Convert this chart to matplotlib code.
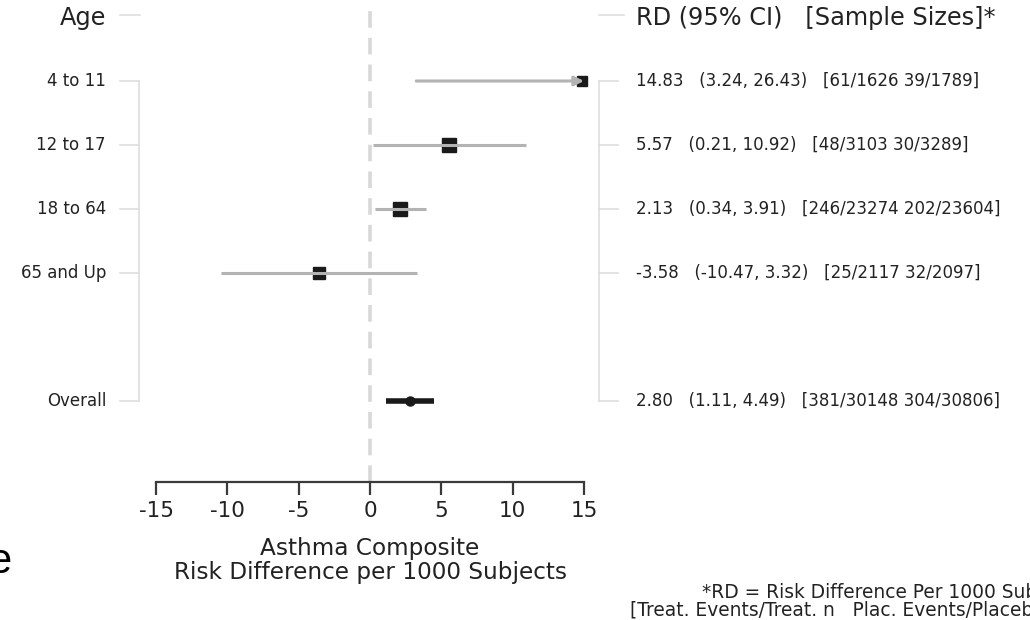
import numpy as np
import matplotlib
matplotlib.use("Agg")
import matplotlib.pyplot as plt
from matplotlib.transforms import blended_transform_factory

plt.rcParams['font.family'] = ['DejaVu Sans']

# data
groups = ["4 to 11", "12 to 17", "18 to 64", "65 and Up"]
rd = [14.83, 5.57, 2.13, -3.58]
lo = [3.24, 0.21, 0.34, -10.47]
hi = [26.43, 10.92, 3.91, 3.32]
sizes = ["61/1626 39/1789", "48/3103 30/3289", "246/23274 202/23604", "25/2117 32/2097"]
overall_rd, overall_lo, overall_hi = 2.80, 1.11, 4.49
overall_sizes = "381/30148 304/30806"
xticks = [-15, -10, -5, 0, 5, 10, 15]

W, H = 1030, 620
fig = plt.figure(figsize=(W / 100, H / 100), dpi=100)
renderer = fig.canvas.get_renderer()


def fit(t, target, k=0.95):
    # reference text is drawn wide; size the font so its width roughly matches
    w = t.get_window_extent(renderer).width
    t.set_fontsize(t.get_fontsize() * k * target / w)
    return t


# main panel: -15..15 -> px 156..584, rows 1..6 -> px 81..401
top_px, bot_px = 8, 482
ax = fig.add_axes([156 / W, 1 - bot_px / H, (584 - 156) / W, (bot_px - top_px) / H])
ax.set_xlim(-15, 15)
px_row = 64.0
ax.set_ylim(1 + (bot_px - 81) / px_row, 1 - (81 - top_px) / px_row)
for s in ["top", "left", "right"]:
    ax.spines[s].set_visible(False)
ax.spines["bottom"].set_linewidth(1.6)
ax.spines["bottom"].set_color("#3a3a3a")
ax.set_yticks([])
ax.set_xticks(xticks)
ax.set_xticklabels([str(t) for t in xticks])
ax.tick_params(axis="x", direction="out", length=9.5, width=1.6, color="#3a3a3a",
               labelsize=15.5, labelcolor="#222222", pad=4)
ax.patch.set_alpha(0)

rows = [1, 2, 3, 4]
row_overall = 6
row_header = 1 - (81 - 18) / px_row

ax.axvline(0, color="#d8d8d8", lw=2.6, ls=(0, (4.6, 2.8)), zorder=1)

grey = "#b3b3b3"
msz = [7, 10, 10, 9]
for i, r in enumerate(rows):
    ax.plot([rd[i]], [r], marker="s", ms=msz[i], color="#1a1a1a", zorder=3, clip_on=False)
    if hi[i] > 15:
        ax.annotate("", xy=(15, r), xytext=(lo[i], r),
                    arrowprops=dict(arrowstyle="-|>", color=grey, lw=2.2,
                                    mutation_scale=14, shrinkA=0, shrinkB=0), zorder=4)
    else:
        ax.plot([lo[i], hi[i]], [r, r], color=grey, lw=2.2, zorder=4, solid_capstyle="butt")

ax.plot([overall_lo, overall_hi], [row_overall, row_overall], color="#1a1a1a", lw=4,
        solid_capstyle="butt", zorder=3)
ax.plot([overall_rd], [row_overall], marker="o", ms=6.5, color="#1a1a1a", zorder=4)

# brackets and side labels: x in figure fraction, y in rows
tr = blended_transform_factory(fig.transFigure, ax.transData)
bc = "#dedede"
all_rows = rows + [row_overall]
ax.plot([139 / W, 139 / W], [rows[0], row_overall], color=bc, lw=1.2, transform=tr, clip_on=False)
ax.plot([599 / W, 599 / W], [rows[0], row_overall], color=bc, lw=1.2, transform=tr, clip_on=False)
for r in all_rows:
    ax.plot([120 / W, 139 / W], [r, r], color=bc, lw=1.2, transform=tr, clip_on=False)
    ax.plot([599 / W, 618 / W], [r, r], color=bc, lw=1.2, transform=tr, clip_on=False)
hy = row_header - 3 / px_row
ax.plot([120 / W, 140 / W], [hy, hy], color=bc, lw=1.2, transform=tr, clip_on=False)
ax.plot([599 / W, 624 / W], [hy, hy], color=bc, lw=1.2, transform=tr, clip_on=False)

tc = "#222222"
fit(ax.text(106 / W, row_header, "Age", transform=tr, ha="right", va="center",
            fontsize=10, color=tc), 49)
fit(ax.text(636 / W, row_header, "RD (95% CI)   [Sample Sizes]*", transform=tr, ha="left",
            va="center", fontsize=10, color=tc), 378)

probe = ax.text(0, 0, groups[0], fontsize=10)
fit(probe, 62)
lab_size = probe.get_fontsize()
probe.remove()

row_txt = [f"{rd[i]:.2f}   ({lo[i]:.2f}, {hi[i]:.2f})   [{sizes[i]}]" for i in range(4)]
probe = ax.text(0, 0, row_txt[0], fontsize=10)
fit(probe, 361)
txt_size = probe.get_fontsize()
probe.remove()

for i, r in enumerate(rows):
    ax.text(106 / W, r, groups[i], transform=tr, ha="right", va="center",
            fontsize=lab_size, color=tc)
    ax.text(636 / W, r, row_txt[i], transform=tr, ha="left", va="center",
            fontsize=txt_size, color=tc)
ax.text(106 / W, row_overall, "Overall", transform=tr, ha="right", va="center",
        fontsize=lab_size, color=tc)
ax.text(636 / W, row_overall,
        f"{overall_rd:.2f}   ({overall_lo:.2f}, {overall_hi:.2f})   [{overall_sizes}]",
        transform=tr, ha="left", va="center", fontsize=txt_size, color=tc)

# x labels under the axis
xl1 = fig.text(370 / W, 1 - 548 / H, "Asthma Composite", ha="center", va="center",
               fontsize=10, color=tc)
xl2 = fig.text(370 / W, 1 - 572 / H, "Risk Difference per 1000 Subjects", ha="center",
               va="center", fontsize=10, color=tc)
fit(xl2, 414)
xl1.set_fontsize(xl2.get_fontsize())

# footnote, runs off the right edge like in the source
fig.text(702 / W, 1 - 593 / H, "*RD = Risk Difference Per 1000 Subjects", ha="left",
         va="center", fontsize=txt_size * 1.12, color=tc)
fig.text(630 / W, 1 - 610 / H, "[Treat. Events/Treat. n   Plac. Events/Placebo n]",
         ha="left", va="center", fontsize=txt_size * 1.12, color=tc)

# stray slide letter at the left edge
fig.text(11 / W, 1 - 562 / H, "e", ha="right", va="center", fontsize=30,
         family="Liberation Sans", color="black")

fig.savefig("out.png", dpi=100)
